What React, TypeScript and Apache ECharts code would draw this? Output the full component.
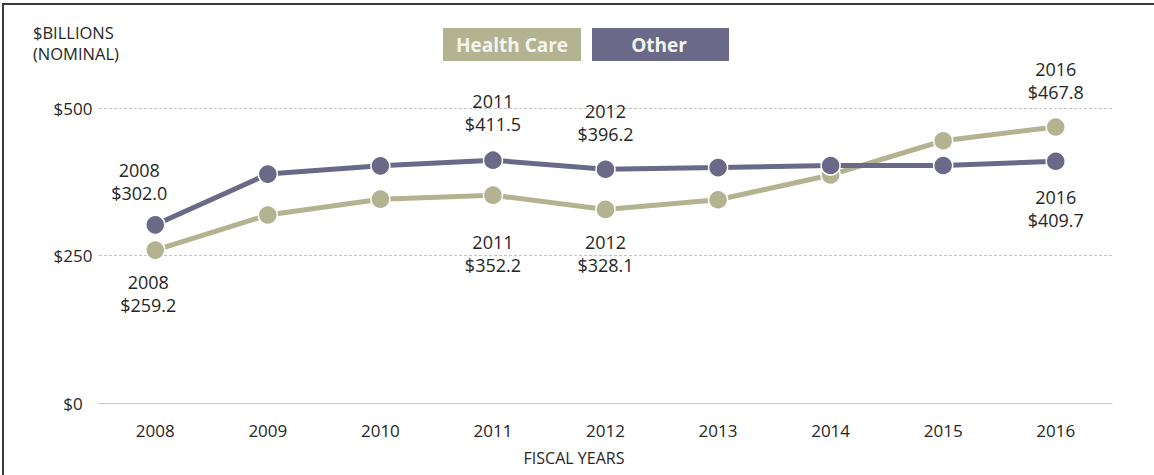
import React, { useEffect, useRef } from "react";
import * as echarts from "echarts";

const years = ["2008", "2009", "2010", "2011", "2012", "2013", "2014", "2015", "2016"];
const healthCare = [259.2, 318.6, 345.5, 352.2, 328.1, 344.5, 386.5, 444.5, 467.8];
const other = [302.0, 388.0, 402.0, 411.5, 396.2, 399.0, 402.5, 402.5, 409.7];
const yTicks = [0, 250, 500];

// which points carry a value label, and where
const hcLabels: Record<number, { pos: string; dist: number; dx: number }> = {
  0: { pos: "bottom", dist: 10, dx: -7 },
  3: { pos: "bottom", dist: 25, dx: 0 },
  4: { pos: "bottom", dist: 11, dx: 0 },
  8: { pos: "top", dist: 13, dx: 0 },
};
const otherLabels: Record<number, { pos: string; dist: number; dx: number }> = {
  0: { pos: "top", dist: 10, dx: -16 },
  3: { pos: "top", dist: 14, dx: 0 },
  4: { pos: "top", dist: 13, dx: 0 },
  8: { pos: "bottom", dist: 14, dx: 0 },
};

const HC_COLOR = "#b3b391";
const OTHER_COLOR = "#6a6a88";
const FONT = "'Open Sans', 'Noto Sans', sans-serif";

function buildData(values: number[], labels: Record<number, { pos: string; dist: number; dx: number }>) {
  return values.map((v, i) => {
    const l = labels[i];
    if (!l) return { value: v };
    return {
      value: v,
      label: {
        show: true,
        position: l.pos,
        distance: l.dist,
        offset: [l.dx, 0],
        formatter: () => `${years[i]}\n$${v.toFixed(1)}`,
        fontFamily: FONT,
        fontSize: 18,
        lineHeight: 23,
        color: "#262626",
      },
    };
  });
}

export default function App() {
  const ref = useRef<HTMLDivElement>(null);
  useEffect(() => {
    if (!ref.current) return;
    const chart = echarts.init(ref.current, undefined, { renderer: "svg" });
    chart.setOption({
      animation: false,
      backgroundColor: "#ffffff",
      textStyle: { fontFamily: FONT },
      grid: { left: 99, right: 42, top: 108, bottom: 72 },
      xAxis: {
        type: "category",
        data: years,
        boundaryGap: true,
        axisLine: { show: true, lineStyle: { color: "#c8c8c8", width: 1 } },
        axisTick: { show: false },
        axisLabel: { color: "#262626", fontSize: 17, margin: 19, fontFamily: FONT },
      },
      yAxis: {
        type: "value",
        min: yTicks[0],
        max: yTicks[yTicks.length - 1],
        interval: yTicks[1] - yTicks[0],
        axisLine: { show: false },
        axisTick: { show: false },
        splitLine: { show: true, lineStyle: { color: "#c4c4c4", type: [3, 2], width: 1 } },
        axisLabel: {
          color: "#262626",
          fontSize: 17,
          margin: 26,
          align: "center",
          fontFamily: FONT,
          formatter: (v: number) => `$${v}`,
        },
      },
      graphic: [
        {
          type: "rect",
          shape: { x: 3, y: 4, width: 1200, height: 500 },
          style: { fill: "none", stroke: "#3a3a3a", lineWidth: 2 },
          silent: true,
        },
        {
          type: "text",
          left: 33,
          top: 22,
          style: {
            text: "$BILLIONS\n(NOMINAL)",
            fill: "#262626",
            fontSize: 16.5,
            lineHeight: 21,
            fontFamily: FONT,
          },
        },
        {
          type: "text",
          x: 574,
          y: 458,
          style: {
            text: "FISCAL YEARS",
            fill: "#262626",
            fontSize: 16,
            fontFamily: FONT,
            align: "center",
            verticalAlign: "middle",
          },
        },
        {
          type: "rect",
          shape: { x: 443, y: 28, width: 138, height: 33 },
          style: { fill: HC_COLOR },
        },
        {
          type: "text",
          x: 512,
          y: 44.5,
          style: {
            text: "Health Care",
            fill: "#f4f4f0",
            fontSize: 19,
            fontWeight: "bold",
            fontFamily: FONT,
            align: "center",
            verticalAlign: "middle",
          },
        },
        {
          type: "rect",
          shape: { x: 592, y: 28, width: 137, height: 33 },
          style: { fill: OTHER_COLOR },
        },
        {
          type: "text",
          x: 659,
          y: 44.5,
          style: {
            text: "Other",
            fill: "#f4f4f0",
            fontSize: 19,
            fontWeight: "bold",
            fontFamily: FONT,
            align: "center",
            verticalAlign: "middle",
          },
        },
      ],
      series: [
        {
          name: "Health Care",
          type: "line",
          data: buildData(healthCare, hcLabels),
          symbol: "circle",
          symbolSize: 19,
          lineStyle: { color: HC_COLOR, width: 5 },
          itemStyle: { color: HC_COLOR, borderColor: "#ffffff", borderWidth: 1.5 },
          z: 2,
        },
        {
          name: "Other",
          type: "line",
          data: buildData(other, otherLabels),
          symbol: "circle",
          symbolSize: 19,
          lineStyle: { color: OTHER_COLOR, width: 5 },
          itemStyle: { color: OTHER_COLOR, borderColor: "#ffffff", borderWidth: 1.5 },
          z: 3,
        },
      ],
    });
    return () => chart.dispose();
  }, []);
  return (
    <div
      ref={ref}
      style={{ position: "absolute", left: 0, top: 0, width: 1154, height: 475 }}
    />
  );
}
